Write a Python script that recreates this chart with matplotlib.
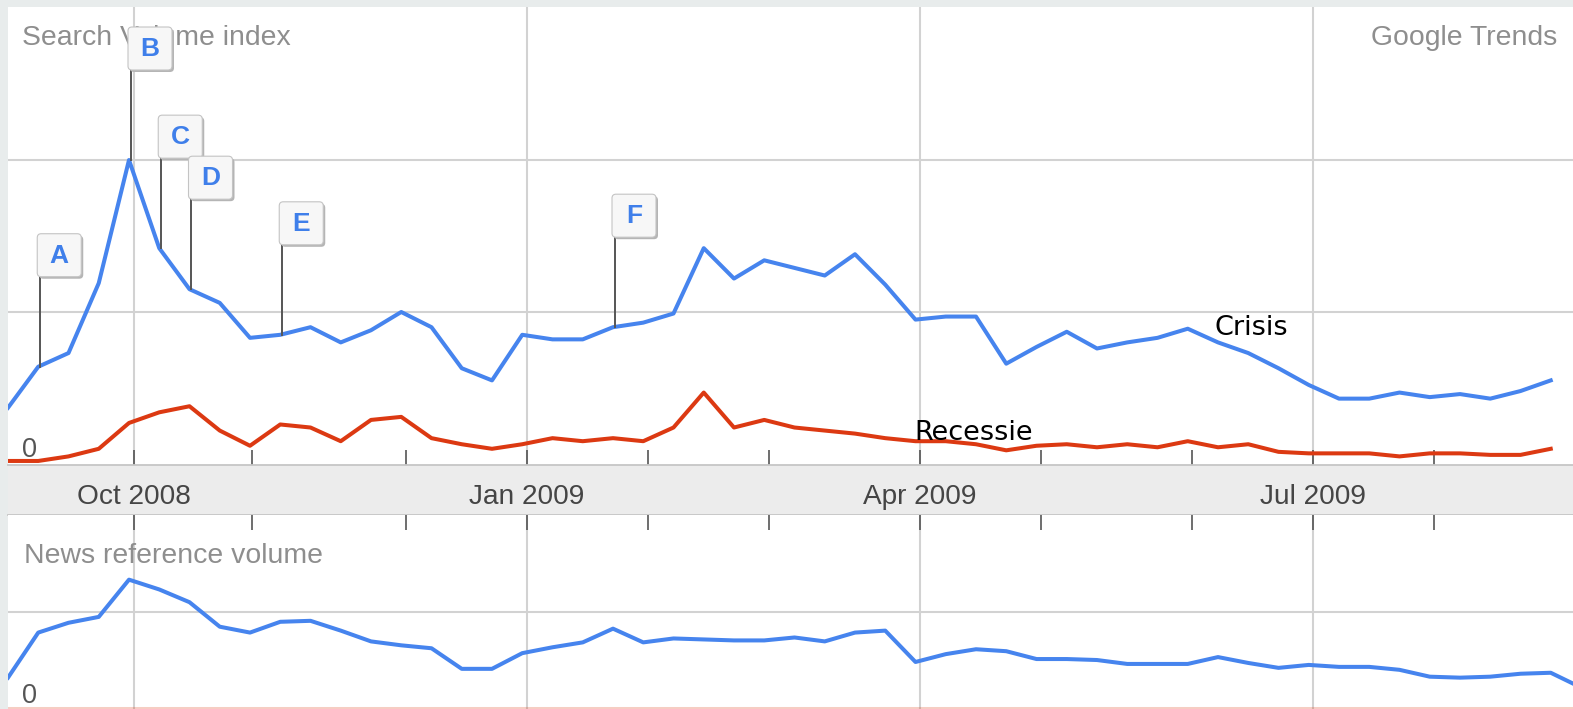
import numpy as np
import matplotlib
matplotlib.use("Agg")
import matplotlib.pyplot as plt
from matplotlib.patches import FancyBboxPatch
from matplotlib.lines import Line2D
from matplotlib.transforms import IdentityTransform

# ---------------- data (weekly values, early Sep 2008 onward) ----------------
search_crisis = [0.37, 0.64, 0.73, 1.19, 2.00, 1.42, 1.15, 1.06, 0.83, 0.85,
                 0.90, 0.80, 0.88, 1.00, 0.90, 0.63, 0.55, 0.85, 0.82, 0.82,
                 0.90, 0.93, 0.99, 1.42, 1.22, 1.34, 1.29, 1.24, 1.38, 1.18,
                 0.95, 0.97, 0.97, 0.66, 0.77, 0.87, 0.76, 0.80, 0.83, 0.89,
                 0.80, 0.73, 0.63, 0.52, 0.43, 0.43, 0.47, 0.44, 0.46, 0.43,
                 0.48, 0.55]
search_recessie = [0.02, 0.02, 0.05, 0.10, 0.27, 0.34, 0.38, 0.22, 0.12, 0.26,
                   0.24, 0.15, 0.29, 0.31, 0.17, 0.13, 0.10, 0.13, 0.17, 0.15,
                   0.17, 0.15, 0.24, 0.47, 0.24, 0.29, 0.24, 0.22, 0.20, 0.17,
                   0.15, 0.15, 0.13, 0.09, 0.12, 0.13, 0.11, 0.13, 0.11, 0.15,
                   0.11, 0.13, 0.08, 0.07, 0.07, 0.07, 0.05, 0.07, 0.07, 0.06,
                   0.06, 0.10]
news_crisis = [0.33, 0.79, 0.89, 0.95, 1.33, 1.23, 1.10, 0.85, 0.79, 0.90,
               0.91, 0.81, 0.70, 0.66, 0.63, 0.42, 0.42, 0.58, 0.64, 0.69,
               0.83, 0.69, 0.73, 0.72, 0.71, 0.71, 0.74, 0.70, 0.79, 0.81,
               0.49, 0.57, 0.62, 0.60, 0.52, 0.52, 0.51, 0.47, 0.47, 0.47,
               0.54, 0.48, 0.43, 0.46, 0.44, 0.44, 0.41, 0.34, 0.33, 0.34,
               0.37, 0.38, 0.23]
news_recessie = [0.01, 0.01, 0.01, 0.01, 0.01, 0.01, 0.01, 0.01, 0.01, 0.01,
                 0.01, 0.01, 0.01, 0.01, 0.01, 0.01, 0.01, 0.01, 0.01, 0.01,
                 0.01, 0.01, 0.01, 0.01, 0.01, 0.01, 0.01, 0.01, 0.01, 0.01,
                 0.01, 0.01, 0.01, 0.01, 0.01, 0.01, 0.01, 0.01, 0.01, 0.01,
                 0.01, 0.01, 0.01, 0.01, 0.01, 0.01, 0.01, 0.01, 0.01, 0.01,
                 0.01, 0.01, 0.01]

month_labels = ["Oct 2008", "Jan 2009", "Apr 2009", "Jul 2009"]
month_weeks = [4.15, 17.15, 30.15, 43.15]
minor_weeks = [4.15, 8.05, 13.15, 17.15, 21.15, 25.15, 30.15, 34.15, 39.15, 43.15, 47.15]

flag_letters = ["A", "B", "C", "D", "E", "F"]
flag_weeks = [1, 4, 5, 6, 9, 20]

# ---------------- styling ----------------
W, H = 1573, 709
BLUE = "#4684ee"
RED = "#dc3912"
GRID = "#d2d2d2"
UI_FONT = ["Liberation Sans", "DejaVu Sans"]

fig = plt.figure(figsize=(W / 100, H / 100), dpi=100)
fig.patch.set_facecolor("#e8ecec")

def fx(x):
    return x / W

def fy(y):
    return 1 - y / H

x_left, x_right = 8, 1573
xmax = (x_right - x_left) / 30.25

# top panel: y pixels 7..465, baseline at 464, 152 px per unit
top_px, bot_px = 7, 465
ax1 = fig.add_axes([fx(x_left), fy(bot_px), fx(x_right - x_left), (bot_px - top_px) / H])
ax1.set_xlim(0, xmax)
ax1.set_ylim((464 - bot_px) / 152, (464 - top_px) / 152)

# band
band_top, band_bot = 465, 515
axb = fig.add_axes([fx(x_left), fy(band_bot), fx(x_right - x_left), (band_bot - band_top) / H])
axb.set_xlim(0, xmax)
axb.set_ylim(0, 1)
axb.set_facecolor("#ececec")

# bottom panel: y pixels 515..710, baseline 710, 98 px per unit
b_top, b_bot = 515, 710
ax2 = fig.add_axes([fx(x_left), fy(b_bot), fx(x_right - x_left), (b_bot - b_top) / H])
ax2.set_xlim(0, xmax)
ax2.set_ylim(0, (b_bot - b_top) / 98)

for ax in (ax1, ax2, axb):
    for s in ax.spines.values():
        s.set_visible(False)
    ax.set_yticks([])

for s in ("top", "bottom"):
    axb.spines[s].set_visible(True)
    axb.spines[s].set_color("#c6c6c6")
    axb.spines[s].set_linewidth(1.3)
axb.set_xticks([])

# grid lines
for w in month_weeks:
    ax1.axvline(w, color=GRID, lw=1.5, zorder=1)
    ax2.axvline(w, color=GRID, lw=1.5, zorder=1)
for v in (1, 2):
    ax1.axhline(v, color=GRID, lw=1.5, zorder=1)
ax2.axhline(1, color=GRID, lw=1.5, zorder=1)

# ticks
ax1.set_xticks(minor_weeks)
ax1.tick_params(axis="x", direction="in", length=11, width=1.2, color="#555555",
                labelbottom=False, bottom=True)
ax2.xaxis.tick_top()
ax2.set_xticks(minor_weeks)
ax2.tick_params(axis="x", direction="in", length=11, width=1.2, color="#555555",
                labeltop=False, top=True, bottom=False, labelbottom=False)

weeks_top = np.arange(len(search_crisis))
weeks_bot = np.arange(len(news_crisis))

lw = 2.9
ax1.plot(weeks_top, search_recessie, color=RED, lw=lw, solid_joinstyle="round", zorder=3)
ax1.plot(weeks_top, search_crisis, color=BLUE, lw=lw, solid_joinstyle="round", zorder=4)
ax2.plot(weeks_bot, news_recessie, color=RED, lw=lw, alpha=0.25, zorder=3)
ax2.plot(weeks_bot, news_crisis, color=BLUE, lw=lw, solid_joinstyle="round", zorder=4)

# month labels in band
for lab, w in zip(month_labels, month_weeks):
    axb.text(w, (band_bot - 504) / (band_bot - band_top), lab, ha="center", va="baseline",
             fontsize=20.2, color="#454545", family=UI_FONT)

# UI texts
fig.text(fx(22), fy(45), "Search Volume index", ha="left", va="baseline",
         fontsize=20.4, color="#8e8e8e", family=UI_FONT, zorder=2)
fig.text(fx(1557), fy(45), "Google Trends", ha="right", va="baseline",
         fontsize=20.4, color="#8e8e8e", family=UI_FONT)
fig.text(fx(22), fy(457), "0", ha="left", va="baseline",
         fontsize=19.5, color="#555555", family=UI_FONT)
fig.text(fx(24), fy(563), "News reference volume", ha="left", va="baseline",
         fontsize=20.4, color="#8e8e8e", family=UI_FONT)
fig.text(fx(22), fy(703), "0", ha="left", va="baseline",
         fontsize=19.5, color="#555555", family=UI_FONT)

# series labels
fig.text(fx(1215), fy(335), "Crisis", ha="left", va="baseline",
         fontsize=19.5, color="black", family="DejaVu Sans")
fig.text(fx(914), fy(440), "Recessie", ha="left", va="baseline",
         fontsize=19.5, color="black", family="DejaVu Sans")

# flags
ident = IdentityTransform()
for letter, w in zip(flag_letters, flag_weeks):
    px, py = ax1.transData.transform((w, search_crisis[w]))
    px += 2
    top = py + 90
    fig.add_artist(Line2D([px, px], [py, top], transform=ident, color="#555555",
                          lw=1.4, zorder=5))
    fig.add_artist(FancyBboxPatch((px - 3 + 2, top - 2), 44, 43,
                                  boxstyle="round,pad=0,rounding_size=4",
                                  transform=ident, fc="#b5b5b5", ec="none", zorder=6))
    fig.add_artist(FancyBboxPatch((px - 3, top), 44, 43,
                                  boxstyle="round,pad=0,rounding_size=4",
                                  transform=ident, fc="#f7f7f7", ec="#c4c4c4",
                                  lw=0.8, zorder=7))
    fig.text(px - 3 + 22, top + 21, letter, transform=ident, ha="center", va="center",
             fontsize=19, fontweight="bold", color="#3f7fea", family=UI_FONT, zorder=8)

fig.savefig("out.png", dpi=100, facecolor=fig.get_facecolor())
